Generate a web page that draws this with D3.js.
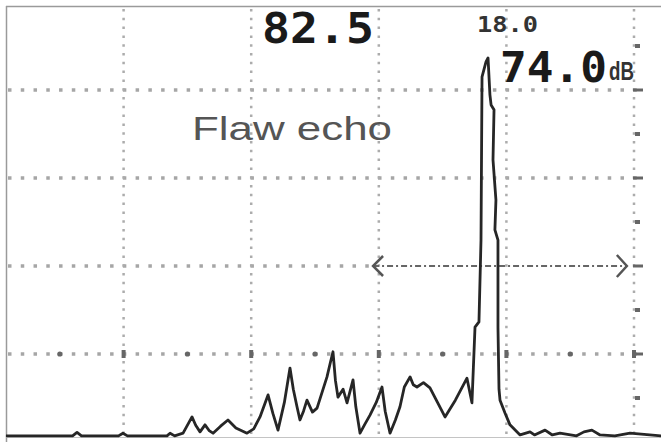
<!DOCTYPE html>
<html><head><meta charset="utf-8">
<script src="https://cdn.jsdelivr.net/npm/d3@7"></script>
<style>html,body{margin:0;padding:0;background:#fff;}svg{display:block;}</style>
</head><body>
<svg id="c" width="661" height="442"></svg>
<script>
// ---- data (x in screen divisions, y in % amplitude) ----
const xGrid = [1, 2, 3, 4, 5];
const yGrid = [20, 40, 60, 80];
const xMid = [0.5, 1.5, 2.5, 3.5, 4.5];
const yMid = [10, 30, 50, 70, 90];
const traceX = [0.078,0.60,0.635,0.67,0.96,0.995,1.03,1.34,1.364,1.40,1.466,1.536,1.565,1.599,1.638,1.67,1.701,1.76,1.818,1.88,1.967,2.02,2.069,2.132,2.17,2.210,2.26,2.304,2.33,2.359,2.382,2.41,2.437,2.48,2.516,2.594,2.62,2.641,2.660,2.680,2.72,2.751,2.798,2.82,2.853,2.89,2.931,2.98,3.025,3.05,3.088,3.13,3.166,3.20,3.245,3.27,3.299,3.35,3.401,3.46,3.519,3.60,3.691,3.730,3.754,3.785,3.801,3.809,3.840,3.856,3.871,3.880,3.903,3.895,3.918,3.910,3.934,3.934,3.942,3.950,3.989,4.028,4.107,4.185,4.22,4.303,4.36,4.42,4.55,4.608,4.67,4.734,4.85,4.969,5.212];
const traceY = [1.4,1.4,2.2,1.4,1.4,2.0,1.4,1.4,2.0,1.4,2.0,5.7,3.8,2.3,3.9,2.6,2.0,3.6,5.0,3.2,2.0,3.0,5.7,10.7,6.5,2.7,9.0,16.8,12.0,8.0,5.0,7.0,9.5,6.8,7.7,14.8,18.0,20.5,14.0,10.2,12.0,8.9,14.1,8.0,2.0,4.0,6.1,9.0,12.5,7.0,2.0,5.0,8.0,12.5,14.8,13.0,12.5,13.5,12.3,9.0,5.7,9.5,14.5,8.9,26.1,27.3,45.9,83.0,86.4,87.3,78.9,76.6,75.5,64.1,55.0,48.2,45.9,26.0,12.0,9.5,6.6,3.9,1.6,2.3,1.6,2.7,1.6,2.0,1.4,2.3,2.7,1.6,1.4,2.0,1.4];
const gateStart = 2.955, gateEnd = 4.944, gateLevel = 40;
const labelRange = "82.5";
const labelSmall = "18.0";
const labelGain = "74.0";
const labelUnit = "dB";
const labelEcho = "Flaw echo";

// ---- layout ----
const W = 661, H = 442;
const padL = 6, padT = 6, baseY = 437;
const svg = d3.select("#c");
const x = d3.scaleLinear().domain([0, 5]).range([-4, 634]);
const y = d3.scaleLinear().domain([0, 100]).range([442, 2]);

// frame
svg.append("line").attr("x1", padL).attr("x2", W).attr("y1", padT+0.5).attr("y2", padT+0.5)
  .attr("stroke", "#9a9a9a").attr("stroke-width", 1.5);
svg.append("line").attr("x1", padL+0.5).attr("x2", padL+0.5).attr("y1", padT).attr("y2", H)
  .attr("stroke", "#9a9a9a").attr("stroke-width", 1.5);
svg.append("line").attr("x1", padL).attr("x2", W).attr("y1", baseY+0.5).attr("y2", baseY+0.5)
  .attr("stroke", "#c4c4c4").attr("stroke-width", 1);

// horizontal dotted grid
const g = svg.append("g");
yGrid.forEach(v => {
  const endX = v === gateLevel ? x(gateStart) - 4 : x(5) + 8;
  g.append("line").attr("x1", padL + 2).attr("x2", endX).attr("y1", y(v)).attr("y2", y(v))
    .attr("stroke", "#a6a6a6").attr("stroke-width", 3.5)
    .attr("stroke-dasharray", "3.5,9.26");
});
// vertical dotted grid
xGrid.forEach(v => {
  g.append("line").attr("x1", x(v)).attr("x2", x(v)).attr("y1", padT + 3).attr("y2", baseY)
    .attr("stroke", "#acacac").attr("stroke-width", 2.5)
    .attr("stroke-dasharray", "2.5,6.3");
});
// darker marks at gridline crossings with 20% line
xGrid.forEach(v => {
  g.append("rect").attr("x", x(v) - 2).attr("y", y(20) - 4).attr("width", 4).attr("height", 8)
    .attr("fill", "#666");
});
// mid-cell markers on 20% line
xMid.forEach(v => {
  g.append("circle").attr("cx", x(v)).attr("cy", y(20)).attr("r", 2.6).attr("fill", "#666");
});
// mid markers on right vertical line
yMid.forEach(v => {
  g.append("rect").attr("x", x(5) + 1).attr("y", y(v) - 2).attr("width", 5).attr("height", 4).attr("fill", "#666");
});
// ticks on right line at grid levels
yGrid.forEach(v => {
  g.append("line").attr("x1", x(5) - 1).attr("x2", x(5) + 9).attr("y1", y(v)).attr("y2", y(v))
    .attr("stroke", "#666").attr("stroke-width", 3);
});

// gate
const gy = y(gateLevel);
svg.append("line").attr("x1", x(gateStart)).attr("x2", x(gateEnd)).attr("y1", gy).attr("y2", gy)
  .attr("stroke", "#666").attr("stroke-width", 2).attr("stroke-dasharray", "6,3,2,3");
svg.append("path").attr("d", d3.line()([[x(gateStart)+10, gy-10],[x(gateStart), gy],[x(gateStart)+10, gy+10]]))
  .attr("fill", "none").attr("stroke", "#555").attr("stroke-width", 2.5);
svg.append("path").attr("d", d3.line()([[x(gateEnd)-10, gy-11],[x(gateEnd), gy],[x(gateEnd)-10, gy+11]]))
  .attr("fill", "none").attr("stroke", "#555").attr("stroke-width", 2.5);

// trace
const pts = traceX.map((v, i) => [x(v), y(traceY[i])]);
svg.append("path").attr("d", d3.line()(pts)).attr("fill", "none")
  .attr("stroke", "#262626").attr("stroke-width", 2.8).attr("stroke-linejoin", "round");

// texts
const txt = (s, px, py, size, len, opts = {}) => svg.append("text").text(s)
  .attr("x", px).attr("y", py).attr("font-size", size)
  .attr("font-family", opts.family || "DejaVu Sans Mono, monospace")
  .attr("font-weight", opts.weight || "bold").attr("fill", opts.fill || "#1a1a1a")
  .attr("textLength", len).attr("lengthAdjust", "spacingAndGlyphs");
txt(labelRange, 262, 43, 42, 112);
txt(labelSmall, 477, 32, 22, 61, {fill: "#333"});
txt(labelGain, 500, 82, 43, 107);
txt(labelUnit, 609, 80, 26, 25, {fill: "#333", family: "Liberation Sans, Arial, sans-serif"});
txt(labelEcho, 192, 140, 34, 200, {weight: "normal", fill: "#555", family: "Liberation Sans, Arial, sans-serif"});
</script>
</body></html>
